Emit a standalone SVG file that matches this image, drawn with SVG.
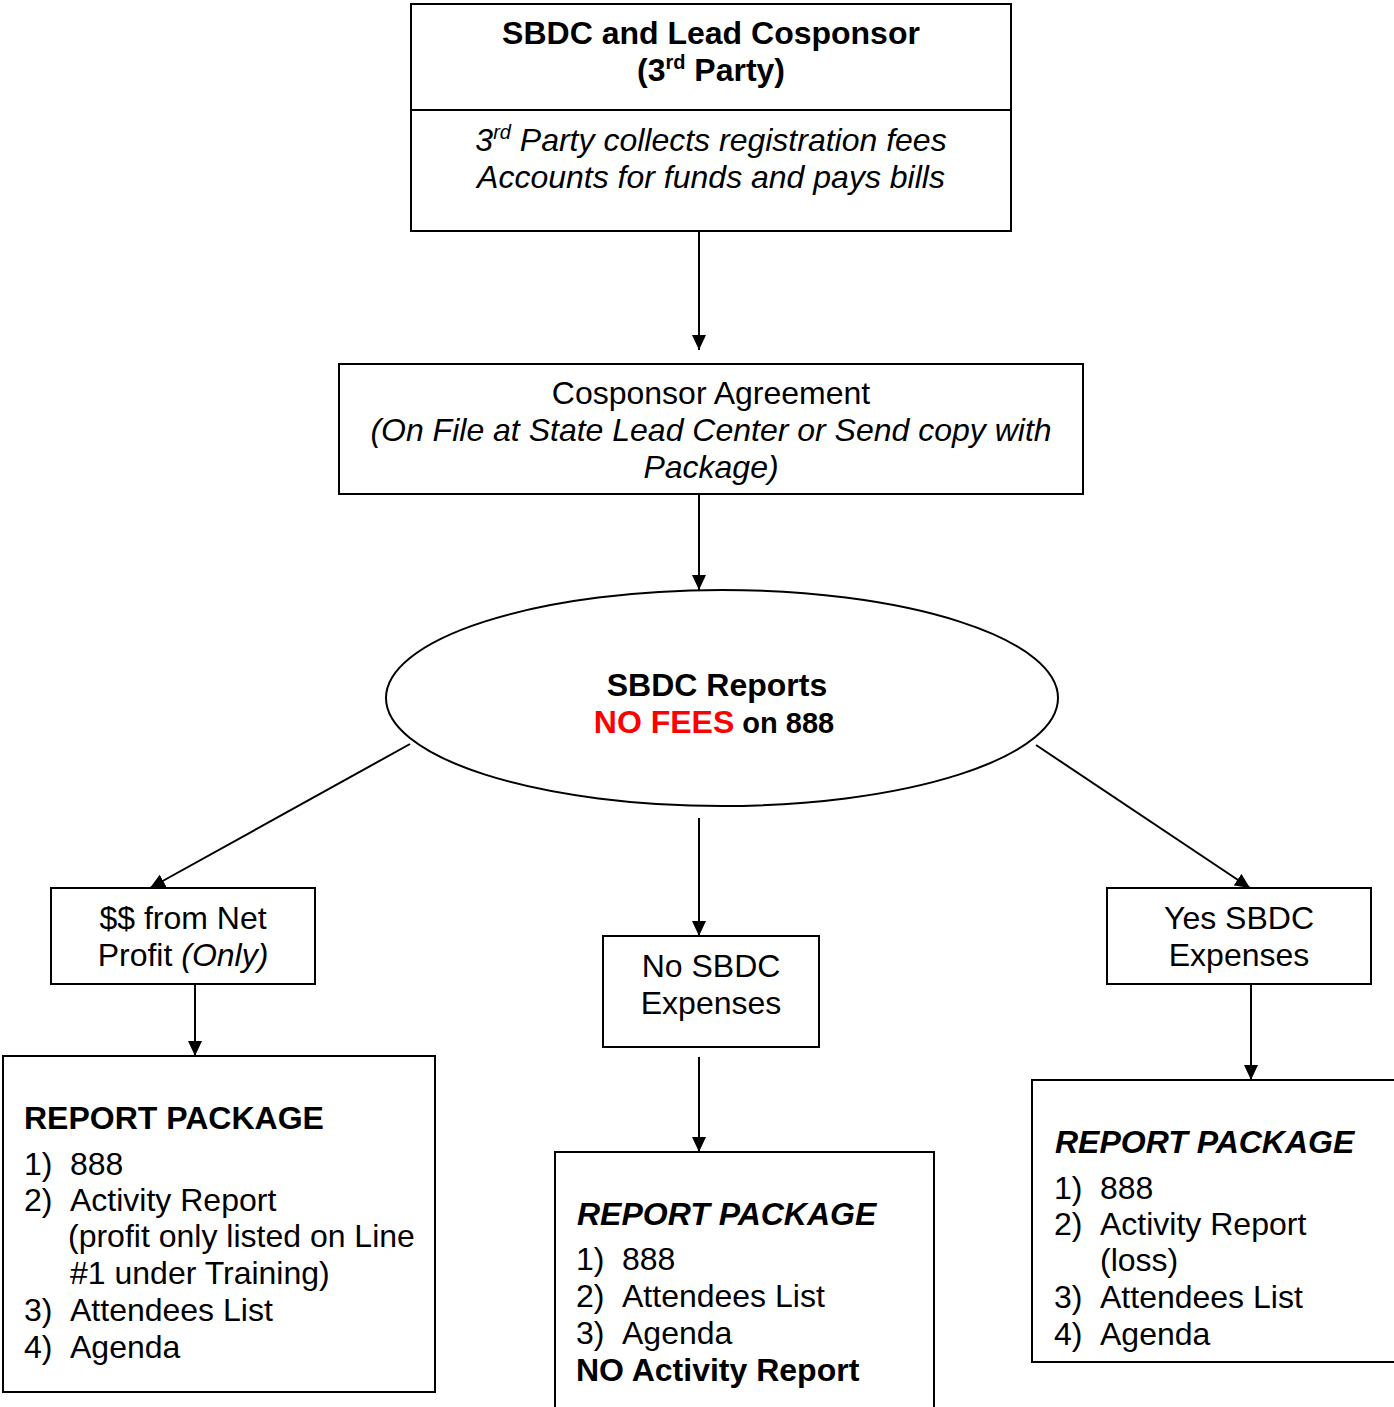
<svg xmlns="http://www.w3.org/2000/svg" width="1394" height="1407" viewBox="0 0 1394 1407">
<defs>
<marker id="ah" markerUnits="userSpaceOnUse" markerWidth="16" markerHeight="14" refX="15" refY="7" orient="auto">
<path d="M0,0 L15,7 L0,14 z" fill="#000"/>
</marker>
<style>
.box{fill:#fff;stroke:#000;stroke-width:2}
.t{font-family:"Liberation Sans",Arial,sans-serif;font-size:32px;fill:#000}
.c{text-anchor:middle}
.b{font-weight:bold}
.i{font-style:italic}
.conn line{stroke:#000;stroke-width:2;marker-end:url(#ah)}
</style>
</defs>
<rect width="1394" height="1407" fill="#fff"/>

<g id="top">
<rect class="box" x="411" y="4" width="600" height="227"/>
<line x1="411" y1="110" x2="1011" y2="110" stroke="#000" stroke-width="2"/>
<text class="t c b" x="711" y="44">SBDC and Lead Cosponsor</text>
<text class="t c b" x="711" y="81">(3<tspan font-size="20" dy="-12">rd</tspan><tspan dy="12"> Party)</tspan></text>
<text class="t c i" x="711" y="151">3<tspan font-size="20" dy="-12">rd</tspan><tspan dy="12"> Party collects registration fees</tspan></text>
<text class="t c i" x="711" y="188">Accounts for funds and pays bills</text>
</g>

<g id="agreement">
<rect class="box" x="339" y="364" width="744" height="130"/>
<text class="t c" x="711" y="404">Cosponsor Agreement</text>
<text class="t c i" x="711" y="441">(On File at State Lead Center or Send copy with</text>
<text class="t c i" x="711" y="478">Package)</text>
</g>

<g id="reports">
<ellipse class="box" cx="722" cy="698" rx="336" ry="108"/>
<text class="t c b" x="717" y="696">SBDC Reports</text>
<text class="t c b" x="714" y="733"><tspan fill="#ff0000">NO FEES</tspan><tspan font-size="29"> on 888</tspan></text>
</g>

<g id="netprofit">
<rect class="box" x="51" y="888" width="264" height="96"/>
<text class="t c" x="183" y="929">$$ from Net</text>
<text class="t c" x="183" y="966">Profit <tspan class="i">(Only)</tspan></text>
</g>

<g id="nosbdc">
<rect class="box" x="603" y="936" width="216" height="111"/>
<text class="t c" x="711" y="977">No SBDC</text>
<text class="t c" x="711" y="1014">Expenses</text>
</g>

<g id="yessbdc">
<rect class="box" x="1107" y="888" width="264" height="96"/>
<text class="t c" x="1239" y="929">Yes SBDC</text>
<text class="t c" x="1239" y="966">Expenses</text>
</g>

<g id="pkg-left">
<rect class="box" x="3" y="1056" width="432" height="336"/>
<text class="t b" x="24" y="1129">REPORT PACKAGE</text>
<text class="t" x="24" y="1175">1)</text><text class="t" x="70" y="1175">888</text>
<text class="t" x="24" y="1211">2)</text><text class="t" x="70" y="1211">Activity Report</text>
<text class="t" x="68" y="1247">(profit only listed on Line</text>
<text class="t" x="70" y="1284">#1 under Training)</text>
<text class="t" x="24" y="1321">3)</text><text class="t" x="70" y="1321">Attendees List</text>
<text class="t" x="24" y="1358">4)</text><text class="t" x="70" y="1358">Agenda</text>
</g>

<g id="pkg-mid">
<rect class="box" x="555" y="1152" width="379" height="270"/>
<text class="t b i" x="577" y="1225">REPORT PACKAGE</text>
<text class="t" x="576" y="1270">1)</text><text class="t" x="622" y="1270">888</text>
<text class="t" x="576" y="1307">2)</text><text class="t" x="622" y="1307">Attendees List</text>
<text class="t" x="576" y="1344">3)</text><text class="t" x="622" y="1344">Agenda</text>
<text class="t b" x="576" y="1381">NO Activity Report</text>
</g>

<g id="pkg-right">
<rect class="box" x="1032" y="1080" width="380" height="282"/>
<text class="t b i" x="1055" y="1153">REPORT PACKAGE</text>
<text class="t" x="1054" y="1199">1)</text><text class="t" x="1100" y="1199">888</text>
<text class="t" x="1054" y="1235">2)</text><text class="t" x="1100" y="1235">Activity Report</text>
<text class="t" x="1100" y="1271">(loss)</text>
<text class="t" x="1054" y="1308">3)</text><text class="t" x="1100" y="1308">Attendees List</text>
<text class="t" x="1054" y="1345">4)</text><text class="t" x="1100" y="1345">Agenda</text>
</g>

<g id="connectors" class="conn">
<line x1="699" y1="231" x2="699" y2="350"/>
<line x1="699" y1="494" x2="699" y2="590"/>
<line x1="410" y1="744" x2="150" y2="888"/>
<line x1="699" y1="818" x2="699" y2="936"/>
<line x1="1036" y1="745" x2="1250" y2="888"/>
<line x1="195" y1="984" x2="195" y2="1056"/>
<line x1="699" y1="1057" x2="699" y2="1152"/>
<line x1="1251" y1="984" x2="1251" y2="1080"/>
</g>
</svg>
